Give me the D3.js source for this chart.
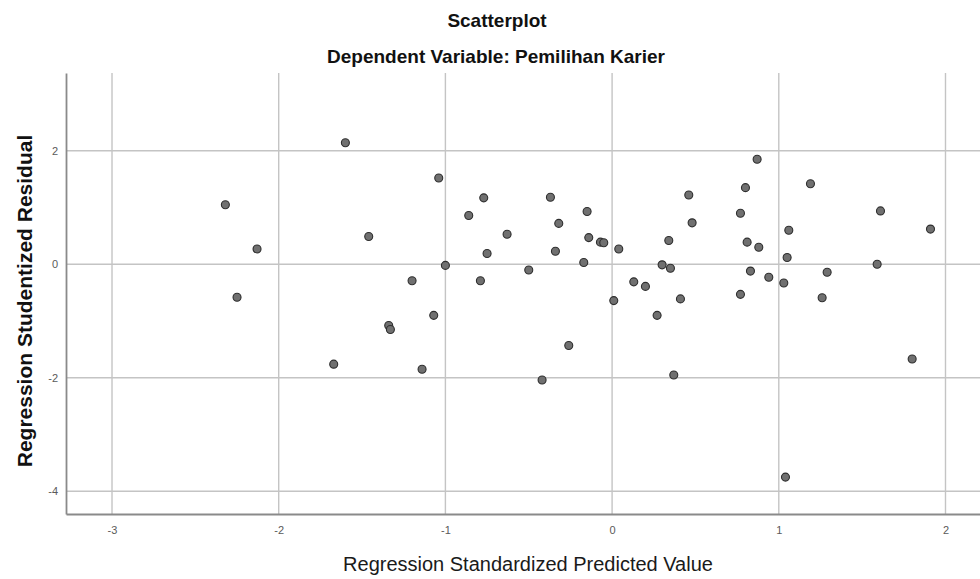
<!DOCTYPE html>
<html>
<head>
<meta charset="utf-8">
<script src="https://cdn.jsdelivr.net/npm/d3@7"></script>
<style>
  body { margin: 0; background: #fff; }
  svg { display: block; font-family: "Liberation Sans", Arial, sans-serif; }
</style>
</head>
<body>
<div id="chart"></div>
<script>
// predicted values (x) and studentized residuals (y)
const predicted = [
  -2.32, -2.13, -2.25, -1.60, -1.04, -0.77, -0.37, -0.86, -0.15, -0.32,
  -1.46, -0.63, -0.14, -0.07, -0.05, 0.04, -0.75, -0.34, -0.17, -1.00,
  -0.50, -1.20, -0.79, 0.13, 0.20, 0.01, -1.07, 0.87, 1.19, 0.80,
  0.46, 1.61, 0.77, 1.91, 1.06, 0.48, 0.34, 0.81, 0.88, 1.05,
  0.30, 0.35, 1.59, 0.83, 0.94, 1.29, 1.03, 0.77, 0.41, 1.26,
  0.27, -1.34, -1.33, -1.67, -0.26, -1.14, -0.42, 1.80, 0.37, 1.04
];
const residual = [
  1.05, 0.27, -0.58, 2.14, 1.52, 1.17, 1.18, 0.86, 0.93, 0.72,
  0.49, 0.53, 0.47, 0.39, 0.38, 0.27, 0.19, 0.23, 0.03, -0.02,
  -0.10, -0.29, -0.29, -0.31, -0.39, -0.64, -0.90, 1.85, 1.42, 1.35,
  1.22, 0.94, 0.90, 0.62, 0.60, 0.73, 0.42, 0.39, 0.30, 0.12,
  -0.01, -0.07, 0.00, -0.12, -0.23, -0.14, -0.33, -0.53, -0.61, -0.59,
  -0.90, -1.08, -1.15, -1.76, -1.43, -1.85, -2.04, -1.67, -1.95, -3.75
];
const xTicks = [-3, -2, -1, 0, 1, 2];
const yTicks = [-4, -2, 0, 2];

const title = "Scatterplot";
const subtitle = "Dependent Variable: Pemilihan Karier";
const xLabel = "Regression Standardized Predicted Value";
const yLabel = "Regression Studentized Residual";

const W = 980, H = 579;
const margin = { top: 73, right: 0, bottom: 65, left: 66 };
const width = W - margin.left - margin.right;
const height = H - margin.top - margin.bottom;

const svg = d3.select("#chart").append("svg")
  .attr("width", W)
  .attr("height", H);

const g = svg.append("g")
  .attr("transform", `translate(${margin.left},${margin.top})`);

const x = d3.scaleLinear().domain([-3.276, 2.207]).range([0, width]);
const y = d3.scaleLinear().domain([-4.4, 3.37]).range([height, 0]);

// grid
g.selectAll(".vgrid").data(xTicks).enter().append("line")
  .attr("x1", d => x(d)).attr("x2", d => x(d))
  .attr("y1", 0).attr("y2", height)
  .attr("stroke", "#c4c4c4").attr("stroke-width", 1.4);

g.selectAll(".hgrid").data(yTicks).enter().append("line")
  .attr("x1", 0).attr("x2", width)
  .attr("y1", d => y(d)).attr("y2", d => y(d))
  .attr("stroke", "#c4c4c4").attr("stroke-width", 1.4);

// axes (SPSS uses a plain hyphen for negatives)
const fmt = d => String(d);
const xAxis = g.append("g")
  .attr("transform", `translate(0,${height})`)
  .call(d3.axisBottom(x).tickValues(xTicks).tickSize(0).tickPadding(12).tickFormat(fmt));
const yAxis = g.append("g")
  .call(d3.axisLeft(y).tickValues(yTicks).tickSize(0).tickPadding(8).tickFormat(fmt));

[xAxis, yAxis].forEach(a => {
  a.select(".domain").attr("stroke", "#8a8a8a").attr("stroke-width", 1.8);
  a.selectAll("text")
    .style("font-size", "11px")
    .style("font-family", "'Liberation Sans', Arial, sans-serif")
    .attr("fill", "#5a5a5a");
});

// points
const points = predicted.map((p, i) => ({ px: p, ry: residual[i] }));
g.selectAll(".dot").data(points).enter().append("circle")
  .attr("class", "dot")
  .attr("cx", d => x(d.px))
  .attr("cy", d => y(d.ry))
  .attr("r", 4)
  .attr("fill", "#707070")
  .attr("stroke", "#2e2e2e")
  .attr("stroke-width", 1.1);

// titles
svg.append("text")
  .attr("x", 497).attr("y", 27)
  .attr("text-anchor", "middle")
  .style("font-size", "19px").style("font-weight", "bold")
  .attr("fill", "#111")
  .text(title);

svg.append("text")
  .attr("x", 496).attr("y", 63)
  .attr("text-anchor", "middle")
  .style("font-size", "19px").style("font-weight", "bold")
  .attr("fill", "#111")
  .text(subtitle);

svg.append("text")
  .attr("x", 528).attr("y", 571)
  .attr("text-anchor", "middle")
  .style("font-size", "20px")
  .attr("fill", "#1a1a1a")
  .text(xLabel);

svg.append("text")
  .attr("transform", "rotate(-90)")
  .attr("x", -301).attr("y", 32)
  .attr("text-anchor", "middle")
  .style("font-size", "21px").style("font-weight", "bold")
  .attr("fill", "#111")
  .text(yLabel);
</script>
</body>
</html>
